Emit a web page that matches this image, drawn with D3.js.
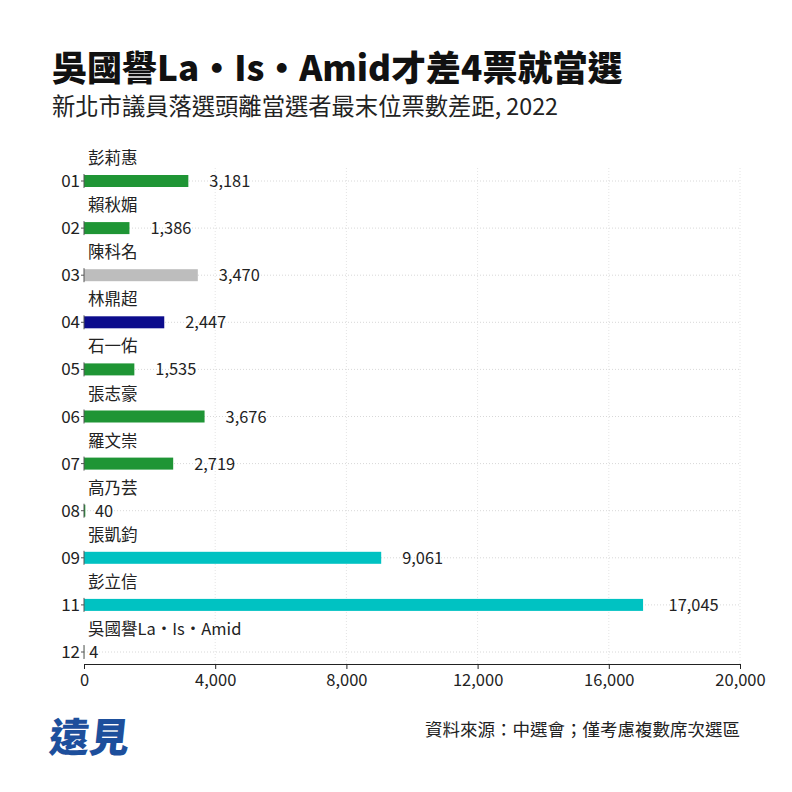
<!DOCTYPE html>
<html><head><meta charset="utf-8">
<script src="https://cdn.jsdelivr.net/npm/d3@7"></script>
<style>
body{margin:0;background:#fff;}
svg{display:block;font-family:"Noto Sans CJK TC","Noto Sans",sans-serif;}
</style></head>
<body>
<svg id="chart" width="792" height="792"></svg>
<script>
const districts = ["01","02","03","04","05","06","07","08","09","11","12"];
const names = ["彭莉惠","賴秋媚","陳科名","林鼎超","石一佑","張志豪","羅文崇","高乃芸","張凱鈞","彭立信","吳國譽La・Is・Amid"];
const values = [3181,1386,3470,2447,1535,3676,2719,40,9061,17045,4];
const parties = ["g","g","grey","navy","g","g","g","g","c","c","g"];
const xTicks = [0,4000,8000,12000,16000,20000];
const colorMap = {g:"#1f9535", grey:"#bdbdbd", navy:"#0c0c8c", c:"#00c2c2"};

const svg = d3.select("#chart");
svg.append("rect").attr("width",792).attr("height",792).attr("fill","#fff");

svg.append("text").attr("x",52).attr("y",81).attr("font-size",35).attr("font-weight",900)
  .attr("fill","#111").text("吳國譽La・Is・Amid才差4票就當選");
svg.append("text").attr("x",52).attr("y",115).attr("font-size",23.3)
  .attr("fill","#222").text("新北市議員落選頭離當選者最末位票數差距, 2022");

const x = d3.scaleLinear().domain([0,20000]).range([84,740]);
const y = d3.scalePoint().domain(districts).range([181,652]);

const g = svg.append("g");
g.selectAll(".vg").data(xTicks.slice(1)).join("line")
  .attr("x1",d=>x(d)).attr("x2",d=>x(d)).attr("y1",168).attr("y2",664)
  .attr("stroke","#e4e4e4").attr("stroke-dasharray","1,2");
g.selectAll(".hg").data(districts).join("line")
  .attr("x1",x(0)).attr("x2",x(20000)).attr("y1",d=>y(d)).attr("y2",d=>y(d))
  .attr("stroke","#d8d8d8").attr("stroke-dasharray","1,2");

g.selectAll(".bar").data(values).join("rect")
  .attr("x",x(0)).attr("y",(d,i)=>y(districts[i])-6)
  .attr("width",d=>x(d)-x(0)).attr("height",12)
  .attr("fill",(d,i)=>colorMap[parties[i]]);

g.selectAll(".ys").data(districts).join("line")
  .attr("x1",x(0)).attr("x2",x(0)).attr("y1",d=>y(d)-7).attr("y2",d=>y(d)+7)
  .attr("stroke","#555").attr("stroke-width",1);
g.selectAll(".yt").data(districts).join("line")
  .attr("x1",x(0)-3).attr("x2",x(0)).attr("y1",d=>y(d)).attr("y2",d=>y(d))
  .attr("stroke","#555");
g.selectAll(".yl").data(districts).join("text")
  .attr("x",80).attr("y",d=>y(d)+6).attr("text-anchor","end")
  .attr("font-size",17).attr("fill","#222").text(d=>d);
g.selectAll(".nm").data(names).join("text")
  .attr("x",88).attr("y",(d,i)=>y(districts[i])-17)
  .attr("font-size",16.5).attr("fill","#222").text(d=>d);
const fmt = d3.format(",");
g.selectAll(".vl").data(values).join("text")
  .attr("y",(d,i)=>y(districts[i])+6)
  .attr("font-size",16.4).attr("fill","#222").text(d=>fmt(d))
  .each(function(d){
    const w = this.getComputedTextLength();
    d3.select(this).attr("x", x(d) + w/2 + 0.5);
  });

const xAxis = d3.axisBottom(x).tickValues(xTicks).tickFormat(fmt).tickSize(5).tickSizeOuter(0);
const ax = svg.append("g").attr("transform","translate(0,664)").call(xAxis);
ax.select(".domain").attr("stroke","#222");
ax.selectAll(".tick line").attr("stroke","#222");
ax.selectAll(".tick text").attr("font-size",16.5).attr("fill","#222").attr("dy","0.85em")
  .attr("font-family","'Noto Sans CJK TC','Noto Sans',sans-serif");

svg.append("text").attr("x",740).attr("y",736).attr("text-anchor","end")
  .attr("font-size",17.5).attr("fill","#222").text("資料來源：中選會；僅考慮複數席次選區");
svg.append("text").attr("x",48).attr("y",752).attr("font-size",40).attr("font-weight",900)
  .attr("fill","#1d4f9c").attr("transform","skewX(-6) translate(79,0)").text("遠見");
</script>
</body></html>
